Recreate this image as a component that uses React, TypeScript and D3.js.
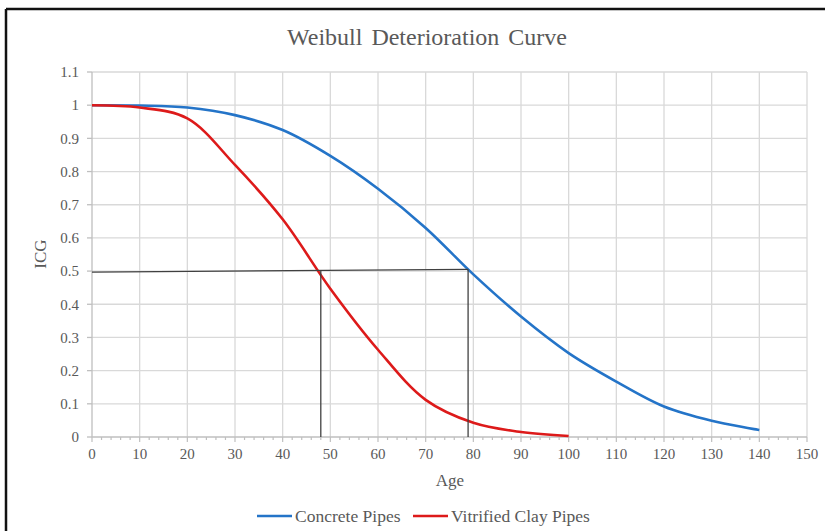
import React from "react";
import * as d3 from "d3";

const ages = [0, 10, 20, 30, 40, 50, 60, 70, 80, 90, 100, 110, 120, 130, 140];
const concreteValues = [1.0, 0.999, 0.993, 0.97, 0.925, 0.847, 0.748, 0.63, 0.49, 0.363, 0.253, 0.167, 0.092, 0.049, 0.021];
const clayAges = [0, 10, 20, 30, 40, 50, 60, 70, 80, 90, 100];
const clayValues = [1.0, 0.993, 0.96, 0.82, 0.656, 0.447, 0.263, 0.112, 0.043, 0.015, 0.003];
const xTicks = [0, 10, 20, 30, 40, 50, 60, 70, 80, 90, 100, 110, 120, 130, 140, 150];
const yTicks = [0, 0.1, 0.2, 0.3, 0.4, 0.5, 0.6, 0.7, 0.8, 0.9, 1, 1.1];
const refHorizontal = [[0, 0.497], [78.9, 0.505]];
const refVerticals = [[48, 0.5], [78.9, 0.505]];
const seriesNames = ["Concrete Pipes", "Vitrified Clay Pipes"];
const seriesColors = ["#2474c8", "#dd1a1a"];

const W = 825, H = 531;
const FONT = "'Liberation Serif', 'Times New Roman', serif";
const TXT = "#595959";

export default function App() {
  const x = d3.scaleLinear().domain([0, 150]).range([92, 807]);
  const y = d3.scaleLinear().domain([0, 1.1]).range([437, 72]);
  const line = d3
    .line<[number, number]>()
    .x((d) => x(d[0]))
    .y((d) => y(d[1]))
    .curve(d3.curveCatmullRom.alpha(0.5));
  const concrete: [number, number][] = ages.map((a, i) => [a, concreteValues[i]]);
  const clay: [number, number][] = clayAges.map((a, i) => [a, clayValues[i]]);
  const minor = d3.range(0, 151, 2);

  return (
    <div style={{ position: "fixed", left: 0, top: 0 }}>
      <svg width={W} height={H} style={{ display: "block", background: "#fff" }}>
        {/* frame */}
        <line x1={6} y1={9} x2={W} y2={9} stroke="#111" strokeWidth={2.5} />
        <line x1={6} y1={9} x2={6} y2={H} stroke="#111" strokeWidth={2.5} />

        <text x={427} y={45} textAnchor="middle" fontFamily={FONT} fontSize={24} fill={TXT} wordSpacing={3}>
          Weibull Deterioration Curve
        </text>

        {/* grid */}
        {yTicks.slice(1).map((t) => (
          <line key={"gy" + t} x1={x(0)} x2={x(150)} y1={y(t)} y2={y(t)} stroke="#d9d9d9" strokeWidth={1.3} />
        ))}
        {xTicks.slice(1).map((t) => (
          <line key={"gx" + t} x1={x(t)} x2={x(t)} y1={y(0)} y2={y(1.1)} stroke="#d9d9d9" strokeWidth={1.3} />
        ))}

        {/* axes */}
        <line x1={x(0)} x2={x(0)} y1={y(0)} y2={y(1.1)} stroke="#bfbfbf" strokeWidth={1.3} />
        <line x1={x(0)} x2={x(150)} y1={y(0)} y2={y(0)} stroke="#bfbfbf" strokeWidth={1.3} />
        {yTicks.map((t) => (
          <g key={"yt" + t}>
            <line x1={x(0) - 5} x2={x(0)} y1={y(t)} y2={y(t)} stroke="#bfbfbf" strokeWidth={1.3} />
            <text x={79} y={y(t)} dy="0.35em" textAnchor="end" fontFamily={FONT} fontSize={15} fill={TXT}>
              {d3.format("~g")(t)}
            </text>
          </g>
        ))}
        {minor.map((t) => (
          <line key={"mt" + t} x1={x(t)} x2={x(t)} y1={y(0)} y2={y(0) + (t % 10 === 0 ? 5 : 3)} stroke="#bfbfbf" strokeWidth={1.2} />
        ))}
        {xTicks.map((t) => (
          <text key={"xt" + t} x={x(t)} y={459} textAnchor="middle" fontFamily={FONT} fontSize={15} fill={TXT}>
            {t}
          </text>
        ))}
        <text x={450} y={486} textAnchor="middle" fontFamily={FONT} fontSize={17} fill={TXT}>Age</text>
        <text transform={`translate(46,254) rotate(-90)`} textAnchor="middle" fontFamily={FONT} fontSize={17} fill={TXT}>ICG</text>

        {/* series */}
        <path d={line(concrete) || ""} fill="none" stroke={seriesColors[0]} strokeWidth={2.6} />
        <path d={line(clay) || ""} fill="none" stroke={seriesColors[1]} strokeWidth={2.6} />

        {/* reference lines */}
        <line x1={x(refHorizontal[0][0])} y1={y(refHorizontal[0][1])} x2={x(refHorizontal[1][0])} y2={y(refHorizontal[1][1])} stroke="#404040" strokeWidth={1.3} />
        {refVerticals.map((r, i) => (
          <line key={"rv" + i} x1={x(r[0])} x2={x(r[0])} y1={y(r[1])} y2={y(0)} stroke="#404040" strokeWidth={1.3} />
        ))}

        {/* legend */}
        <line x1={257} x2={292} y1={516} y2={516} stroke={seriesColors[0]} strokeWidth={2.6} />
        <text x={295} y={522} fontFamily={FONT} fontSize={17.5} fill={TXT}>{seriesNames[0]}</text>
        <line x1={413} x2={448} y1={516} y2={516} stroke={seriesColors[1]} strokeWidth={2.6} />
        <text x={451} y={522} fontFamily={FONT} fontSize={17.5} fill={TXT}>{seriesNames[1]}</text>
      </svg>
    </div>
  );
}
